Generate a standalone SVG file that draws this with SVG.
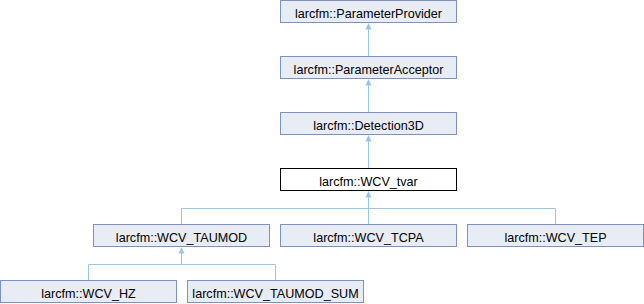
<svg xmlns="http://www.w3.org/2000/svg" width="644" height="304" viewBox="0 0 644 304">
  <style>
    .box { fill: #e8ecf5; stroke: #7a93c7; stroke-width: 1; }
    .cur { fill: #ffffff; stroke: #000000; stroke-width: 1; }
    .lbl { font-family: "Liberation Sans", Arial, sans-serif; font-size: 12.6px; fill: #000000; text-anchor: middle; }
    .edge { fill: none; stroke: #97c7e9; stroke-width: 1; }
    .head { fill: #97c7e9; stroke: none; }
  </style>
  <defs>
    <!-- inheritance arrowhead, tip at the origin pointing up -->
    <polygon id="tip" class="head" points="0,-0.5 -3,6 3,6"/>
  </defs>

  <rect width="644" height="304" fill="#ffffff"/>

  <g id="connectors">
    <!-- ParameterAcceptor -> ParameterProvider -->
    <use href="#tip" x="368.5" y="23.5"/>
    <path class="edge" d="M368.5,29 V56.5"/>
    <!-- Detection3D -> ParameterAcceptor -->
    <use href="#tip" x="368.5" y="79.5"/>
    <path class="edge" d="M368.5,85 V112.5"/>
    <!-- WCV_tvar -> Detection3D -->
    <use href="#tip" x="368.5" y="135.5"/>
    <path class="edge" d="M368.5,141 V168.5"/>
    <!-- WCV_TAUMOD / WCV_TCPA / WCV_TEP -> WCV_tvar -->
    <use href="#tip" x="368.5" y="191.5"/>
    <path class="edge" d="M368.5,197 V208.5 M181.5,208.5 H555.5 M181.5,208.5 V224.5 M368.5,208.5 V224.5 M555.5,208.5 V224.5"/>
    <!-- WCV_HZ / WCV_TAUMOD_SUM -> WCV_TAUMOD -->
    <use href="#tip" x="181.5" y="247.5"/>
    <path class="edge" d="M181.5,253 V264.5 M88.5,264.5 H275.5 M88.5,264.5 V280.5 M275.5,264.5 V280.5"/>
  </g>

  <g id="ParameterProvider">
    <rect class="box" x="280.5" y="0.5" width="176" height="22"/>
    <text class="lbl" x="368.5" y="17.5">larcfm::ParameterProvider</text>
  </g>
  <g id="ParameterAcceptor">
    <rect class="box" x="280.5" y="56.5" width="176" height="22"/>
    <text class="lbl" x="368.5" y="73.5">larcfm::ParameterAcceptor</text>
  </g>
  <g id="Detection3D">
    <rect class="box" x="280.5" y="112.5" width="176" height="22"/>
    <text class="lbl" x="368.5" y="129.5">larcfm::Detection3D</text>
  </g>
  <g id="WCV_tvar">
    <rect class="cur" x="280.5" y="168.5" width="176" height="22"/>
    <text class="lbl" x="368.5" y="185.5">larcfm::WCV_tvar</text>
  </g>
  <g id="WCV_TAUMOD">
    <rect class="box" x="93.5" y="224.5" width="176" height="22"/>
    <text class="lbl" x="181.5" y="241.5">larcfm::WCV_TAUMOD</text>
  </g>
  <g id="WCV_TCPA">
    <rect class="box" x="280.5" y="224.5" width="176" height="22"/>
    <text class="lbl" x="368.5" y="241.5">larcfm::WCV_TCPA</text>
  </g>
  <g id="WCV_TEP">
    <rect class="box" x="467.5" y="224.5" width="176" height="22"/>
    <text class="lbl" x="555.5" y="241.5">larcfm::WCV_TEP</text>
  </g>
  <g id="WCV_HZ">
    <rect class="box" x="0.5" y="280.5" width="176" height="22"/>
    <text class="lbl" x="88.5" y="297.5">larcfm::WCV_HZ</text>
  </g>
  <g id="WCV_TAUMOD_SUM">
    <rect class="box" x="187.5" y="280.5" width="176" height="22"/>
    <text class="lbl" x="275.5" y="297.5">larcfm::WCV_TAUMOD_SUM</text>
  </g>
</svg>
